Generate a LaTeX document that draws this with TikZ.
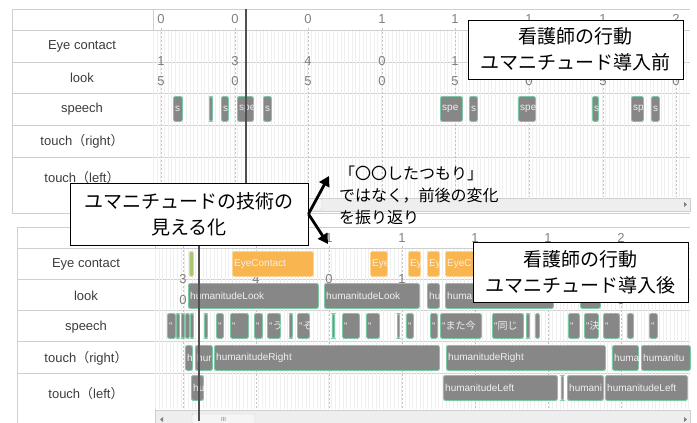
\documentclass[tikz,border=0pt]{standalone}
\usepackage{fontspec}
\setmainfont{Liberation Sans}
\newfontfamily\jp{Noto Sans CJK JP}
\usetikzlibrary{arrows.meta}

\definecolor{evgray}{HTML}{878787}
\definecolor{evedge}{HTML}{7DC9A5}
\definecolor{evorange}{HTML}{F8B550}
\definecolor{oredge}{HTML}{FCD594}
\definecolor{evlime}{HTML}{A9C76E}
\definecolor{limeedge}{HTML}{C9DE9A}
\definecolor{gridc}{HTML}{EFEFEF}
\definecolor{tabc}{HTML}{CFCFCF}
\definecolor{majc}{HTML}{C4C4C4}
\definecolor{tickc}{HTML}{808080}
\definecolor{labc}{HTML}{3C3C3C}
\definecolor{curc}{HTML}{505050}
\definecolor{sbc}{HTML}{EEEEEE}

% one event bar of the timeline: [style] name, x1, x2, top, text
\newcommand{\ev}[6][gblk]{%
  \node[#1,minimum width={#4-#3}] (#2) at (#3,#5) {};
  \node[btxt] (#2t) at (#2.west) {#6};}

\begin{document}
\begin{tikzpicture}[x=1pt,y=-1pt,>={Triangle[length=10pt,width=11pt]},
    gblk/.style={draw=evedge,fill=evgray,line width=0.9pt,rounded corners=2pt,
      inner sep=0pt,minimum height=25pt,anchor=north west},
    oblk/.style={gblk,draw=oredge,fill=evorange},
    lblk/.style={gblk,draw=limeedge,fill=evlime},
    btxt/.style={anchor=west,inner sep=2pt,text=white!88!gray,font=\fontsize{10}{10}\selectfont},
    rowlbl/.style={text=labc,font=\fontsize{13}{13}\selectfont},
    tick/.style={text=tickc,inner sep=0pt,font=\fontsize{13}{13}\selectfont},
    callout/.style={draw,fill=white,line width=0.9pt,align=center,inner sep=0pt,
      font=\jp\fontsize{19}{26}\selectfont},
    tline/.style={draw=tabc,line width=0.6pt},
    fine/.style={draw=gridc,line width=0.35pt},
    major/.style={draw=majc,dash pattern=on 2pt off 2pt,line width=0.5pt},
    cursor/.style={draw=curc,line width=1.6pt}]
        \useasboundingbox (0,0) rectangle (697,423);

        % Upper panel: table.
        \foreach \y in {30,62,93,125,157} \draw[tline] (12,\y) -- (690,\y);
        \draw[tline] (12,9) -- (690,9);
        \draw[tline] (12,213) -- (690,213);
        \draw[tline] (12,9) -- (12,213);
        \draw[tline] (153,9) -- (153,213);
        \foreach \x in {153,156.68,...,690} \draw[fine] (\x,31) -- (\x,197);
        \node[rowlbl] (ueye) at (82,46) {Eye contact};
        \node[rowlbl] (ulook) at (82,78) {look};
        \node[rowlbl] (uspeech) at (82,109) {speech};
        \node[rowlbl] (uright) at (82,141) {touch{\jp（}right{\jp）}};
        \node[rowlbl] (uleft) at (82,178) {touch{\jp（}left{\jp）}};

        % Upper panel: time axis (digits under the call-out are left out).
        \foreach \x in {161,235,308,382,455,529,603,676} \draw[major] (\x,28) -- (\x,197);
        \foreach \x/\a [count=\i] in {161/0,235/0,308/0,382/1,455/1,529/1,603/1,676/2}
          \node[tick] (ua\i) at (\x,19) {\a};
        \foreach \x/\b [count=\i] in {161/1,235/3,308/4,382/0,455/1}
          \node[tick] (ub\i) at (\x,61) {\b};
        \foreach \x/\c [count=\i] in {161/5,235/0,308/5,382/0,455/5,529/0,603/5,676/0}
          \node[tick] (uc\i) at (\x,81) {\c};

        % Upper panel: speech.
        \ev{us1}{173}{182}{96}{s}
        \ev{us2}{209}{212}{96}{}
        \ev{us3}{221}{228}{96}{s}
        \ev{us4}{237}{253}{96}{spe}
        \ev{us5}{263}{271}{96}{s}
        \ev{us6}{440}{462}{96}{spe}
        \ev{us7}{469}{477}{96}{s}
        \ev{us8}{518}{535}{96}{spe}
        \ev{us9}{592}{598}{96}{s}
        \ev{us10}{631}{643}{96}{sp}
        \ev{us11}{651}{659}{96}{s}

        % Upper panel: scroll bar and cursor.
        \draw[draw=tabc,fill=sbc] (153,198) rectangle (690,211);
        \draw[draw=tabc,fill=white!92!gray,rounded corners=1pt] (250,199) rectangle (322,210);
        \fill[tickc] (684,202) -- (687,204.5) -- (684,207) -- cycle;
        \draw[cursor] (246,9) -- (246,213);

        % Lower panel: table.
        \foreach \y in {248,279,310,341,373} \draw[tline] (17,\y) -- (690,\y);
        \draw[tline] (17,227) -- (690,227);
        \draw[tline] (17,227) -- (17,423);
        \draw[tline] (155,227) -- (155,423);
        \foreach \x in {155,158.68,...,690} \draw[fine] (\x,249) -- (\x,409);
        \node[rowlbl] (leye) at (86,264) {Eye contact};
        \node[rowlbl] (llook) at (86,296) {look};
        \node[rowlbl] (lspeech) at (86,327) {speech};
        \node[rowlbl] (lright) at (86,358) {touch{\jp（}right{\jp）}};
        \node[rowlbl] (lleft) at (86,394) {touch{\jp（}left{\jp）}};

        % Lower panel: time axis (digits under the call-outs are left out).
        \foreach \x in {183,256,329,402,475,548,621} \draw[major] (\x,246) -- (\x,409);
        \foreach \x/\a [count=\i] in {329/1,402/1,475/1,548/1,621/2}
          \node[tick] (la\i) at (\x,238) {\a};
        \foreach \x/\b [count=\i] in {183/3,256/4,329/0,402/1}
          \node[tick] (lb\i) at (\x,279) {\b};
        \foreach \x/\c [count=\i] in {183/0,256/5,329/0,402/5,475/0,548/5,621/0}
          \node[tick] (lc\i) at (\x,300) {\c};

        % Lower panel: eye contact.
        \ev[lblk]{le1}{189}{193}{251}{}
        \ev[oblk]{le2}{232}{313}{251}{EyeContact}
        \ev[oblk]{le3}{370}{387}{251}{Eye}
        \ev[oblk]{le4}{408}{420}{251}{Ey}
        \ev[oblk]{le5}{427}{439}{251}{Ey}
        \ev[oblk]{le6}{445}{500}{251}{EyeC}

        % Lower panel: look.
        \ev{ll1}{188}{318}{283}{humanitudeLook}
        \ev{ll2}{324}{419}{283}{humanitudeLook}
        \ev{ll3}{427}{439}{283}{hu}
        \ev{ll4}{445}{553}{283}{huma}
        \ev{ll5}{580}{600}{283}{}

        % Lower panel: speech.
        \ev{ls1}{167}{175}{313}{“}
        \ev{ls2}{176}{179}{313}{}
        \ev{ls3}{181}{184}{313}{}
        \ev{ls4}{185}{189}{313}{}
        \ev{ls5}{190}{193}{313}{}
        \ev{ls6}{204}{207}{313}{}
        \ev{ls7}{216}{223}{313}{“}
        \ev{ls8}{230}{248}{313}{“}
        \ev{ls9}{254}{262}{313}{“}
        \ev{ls10}{267}{280}{313}{“{\jp う}}
        \ev{ls11}{289}{292}{313}{}
        \ev{ls12}{297}{309}{313}{“{\jp そ}}
        \ev{ls13}{332}{334}{313}{}
        \ev{ls14}{342}{359}{313}{“}
        \ev{ls15}{366}{379}{313}{“}
        \ev{ls16}{397}{399}{313}{}
        \ev{ls17}{406}{413}{313}{“}
        \ev{ls18}{430}{437}{313}{“}
        \ev{ls19}{440}{481}{313}{“{\jp また今}}
        \ev{ls20}{492}{523}{313}{“{\jp 同じ}}
        \ev{ls21}{526}{529}{313}{}
        \ev{ls22}{535}{539}{313}{}
        \ev{ls23}{568}{579}{313}{“}
        \ev{ls24}{584}{598}{313}{“{\jp 決}}
        \ev{ls25}{603}{619}{313}{“}
        \ev{ls26}{627}{633}{313}{}
        \ev{ls27}{649}{657}{313}{“}

        % Lower panel: touch (right).
        \ev{lr1}{185}{192}{345}{h}
        \ev{lr2}{195}{212}{345}{hur}
        \ev{lr3}{214}{439}{345}{humanitudeRight}
        \ev{lr4}{446}{605}{345}{humanitudeRight}
        \ev{lr5}{612}{638}{345}{huma}
        \ev{lr6}{641}{690}{345}{humanitu}

        % Lower panel: touch (left).
        \ev{lf1}{191}{203}{375}{hu}
        \ev{lf2}{443}{557}{375}{humanitudeLeft}
        \ev{lf3}{561}{563}{375}{}
        \ev{lf4}{567}{603}{375}{humani}
        \ev{lf5}{605}{687}{375}{humanitudeLeft}

        % Lower panel: scroll bar and cursor.
        \draw[draw=tabc,fill=sbc] (155,410) rectangle (690,424);
        \draw[draw=tabc,fill=white!92!gray,rounded corners=1pt] (192,414) rectangle (255,424);
        \node[text=tickc,inner sep=0pt,font=\fontsize{6}{6}\selectfont] (grip) at (223.5,419) {III};
        \fill[tickc] (163,417) -- (160,419.5) -- (163,422) -- cycle;
        \fill[tickc] (684,417) -- (687,419.5) -- (684,422) -- cycle;
        \draw[cursor] (199,227) -- (199,421);

        % Call-outs.
        \node[callout,minimum width=215pt,minimum height=59pt] (before) at (575.5,49.5)
            {看護師の行動\\ユマニチュード導入前};
        \node[callout,minimum width=215pt,minimum height=60pt] (after) at (580.5,272)
            {看護師の行動\\ユマニチュード導入後};
        \node[callout,minimum width=238pt,minimum height=62pt] (skill) at (189,214)
            {ユマニチュードの技術の\\見える化};
        \coordinate (up) at (329,176);
        \coordinate (down) at (328,244);
        \draw[->,line width=2.8pt] (skill.east) -- (up);
        \draw[->,line width=2.8pt] (skill.east) -- (down);
        \node[anchor=north west,align=left,inner sep=0pt,font=\jp\fontsize{16}{22}\selectfont]
            (note) at (339,166) {「〇〇したつもり」\\ではなく，前後の変化\\を振り返り};
\end{tikzpicture}
\end{document}
